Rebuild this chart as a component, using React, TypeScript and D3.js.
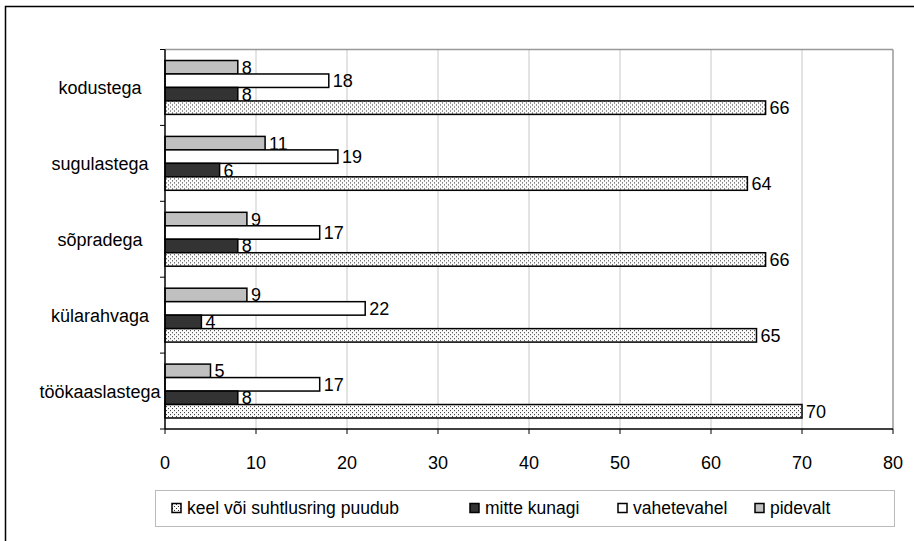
import * as d3 from "d3";

const categories = ["kodustega", "sugulastega", "sõpradega", "külarahvaga", "töökaaslastega"];
const seriesNames = ["keel või suhtlusring puudub", "mitte kunagi", "vahetevahel", "pidevalt"];
// values per series, in category order
const puudub = [66, 64, 66, 65, 70];
const mitteKunagi = [8, 6, 8, 4, 8];
const vahetevahel = [18, 19, 17, 22, 17];
const pidevalt = [8, 11, 9, 9, 5];
const xTicks = [0, 10, 20, 30, 40, 50, 60, 70, 80];

const seriesValues = [puudub, mitteKunagi, vahetevahel, pidevalt];
const fills = ["url(#dots)", "#333333", "#ffffff", "#c0c0c0"];
// drawn top-to-bottom inside a group: pidevalt, vahetevahel, mitte kunagi, puudub
const drawOrder = [3, 2, 1, 0];

const W = 914;
const H = 541;
const plot = { left: 165, right: 893, top: 49.5, bottom: 429 };
const font = "'Liberation Sans', Arial, sans-serif";
const fs = 18;

export default function App() {
  const x = d3.scaleLinear().domain([0, 80]).range([plot.left, plot.right]);
  const y = d3
    .scaleBand()
    .domain(categories)
    .range([plot.top, plot.bottom])
    .paddingInner(0.29)
    .paddingOuter(0.145);
  const step = y.step();
  const inner = d3
    .scaleBand<number>()
    .domain(drawOrder)
    .range([0, y.bandwidth()]);

  const legendX = [172, 470, 618, 755];

  return (
    <svg
      width={W}
      height={H}
      style={{ position: "absolute", left: 0, top: 0, background: "#fff" }}
      fontFamily={font}
    >
      <defs>
        <pattern id="dots" width={4} height={4} patternUnits="userSpaceOnUse">
          <rect width={4} height={4} fill="#fafafa" />
          <rect x={0} y={0} width={1} height={1} fill="#333" />
          <rect x={2} y={2} width={1} height={1} fill="#333" />
        </pattern>
      </defs>

      {/* outer frame */}
      <rect x={5.5} y={6.5} width={920} height={560} fill="#fff" stroke="#000" strokeWidth={1.5} />

      {/* gridlines + plot frame */}
      {xTicks.slice(1, -1).map((t) => (
        <line key={t} x1={x(t)} x2={x(t)} y1={plot.top} y2={plot.bottom} stroke="#c8c8c8" strokeWidth={1} />
      ))}
      <line x1={plot.left} x2={plot.right} y1={plot.top} y2={plot.top} stroke="#999" strokeWidth={1.5} />
      <line x1={plot.right} x2={plot.right} y1={plot.top} y2={plot.bottom} stroke="#999" strokeWidth={1.5} />

      {/* bars */}
      {categories.map((c, ci) => (
        <g key={c} transform={`translate(0,${y(c)})`}>
          {drawOrder.map((si) => {
            const v = seriesValues[si][ci];
            const by = inner(si) ?? 0;
            const bh = inner.bandwidth();
            return (
              <g key={si}>
                <rect
                  x={x(0)}
                  y={by}
                  width={x(v) - x(0)}
                  height={bh}
                  fill={fills[si]}
                  stroke="#000"
                  strokeWidth={1.5}
                />
                <text
                  x={x(v) + 4}
                  y={by + bh / 2}
                  dy="0.36em"
                  fontSize={fs}
                  fill="#000"
                >
                  {v}
                </text>
              </g>
            );
          })}
        </g>
      ))}

      {/* y axis */}
      <line x1={plot.left} x2={plot.left} y1={plot.top} y2={plot.bottom} stroke="#000" strokeWidth={1.5} />
      {d3.range(categories.length + 1).map((i) => (
        <line
          key={i}
          x1={plot.left - 5}
          x2={plot.left}
          y1={plot.top + i * step}
          y2={plot.top + i * step}
          stroke="#000"
          strokeWidth={1}
        />
      ))}
      {categories.map((c) => (
        <text
          key={c}
          x={100}
          y={(y(c) ?? 0) + y.bandwidth() / 2}
          dy="0.36em"
          textAnchor="middle"
          fontSize={fs}
        >
          {c}
        </text>
      ))}

      {/* x axis */}
      <line x1={plot.left} x2={plot.right} y1={plot.bottom} y2={plot.bottom} stroke="#000" strokeWidth={1.5} />
      {xTicks.map((t) => (
        <g key={t}>
          <line x1={x(t)} x2={x(t)} y1={plot.bottom} y2={plot.bottom + 5} stroke="#000" strokeWidth={1} />
          <text x={x(t)} y={463} dy="0.36em" textAnchor="middle" fontSize={fs}>
            {t}
          </text>
        </g>
      ))}

      {/* legend */}
      <rect x={155.5} y={490.5} width={739} height={36} fill="#fff" stroke="#bbb" strokeWidth={1} />
      {seriesNames.map((name, i) => (
        <g key={name} transform={`translate(${legendX[i]},508)`}>
          <rect x={0} y={-4.5} width={9} height={9} fill={fills[i]} stroke="#000" strokeWidth={1.5} />
          <text x={15} y={0} dy="0.36em" fontSize={fs - 0.5}>
            {name}
          </text>
        </g>
      ))}
    </svg>
  );
}
